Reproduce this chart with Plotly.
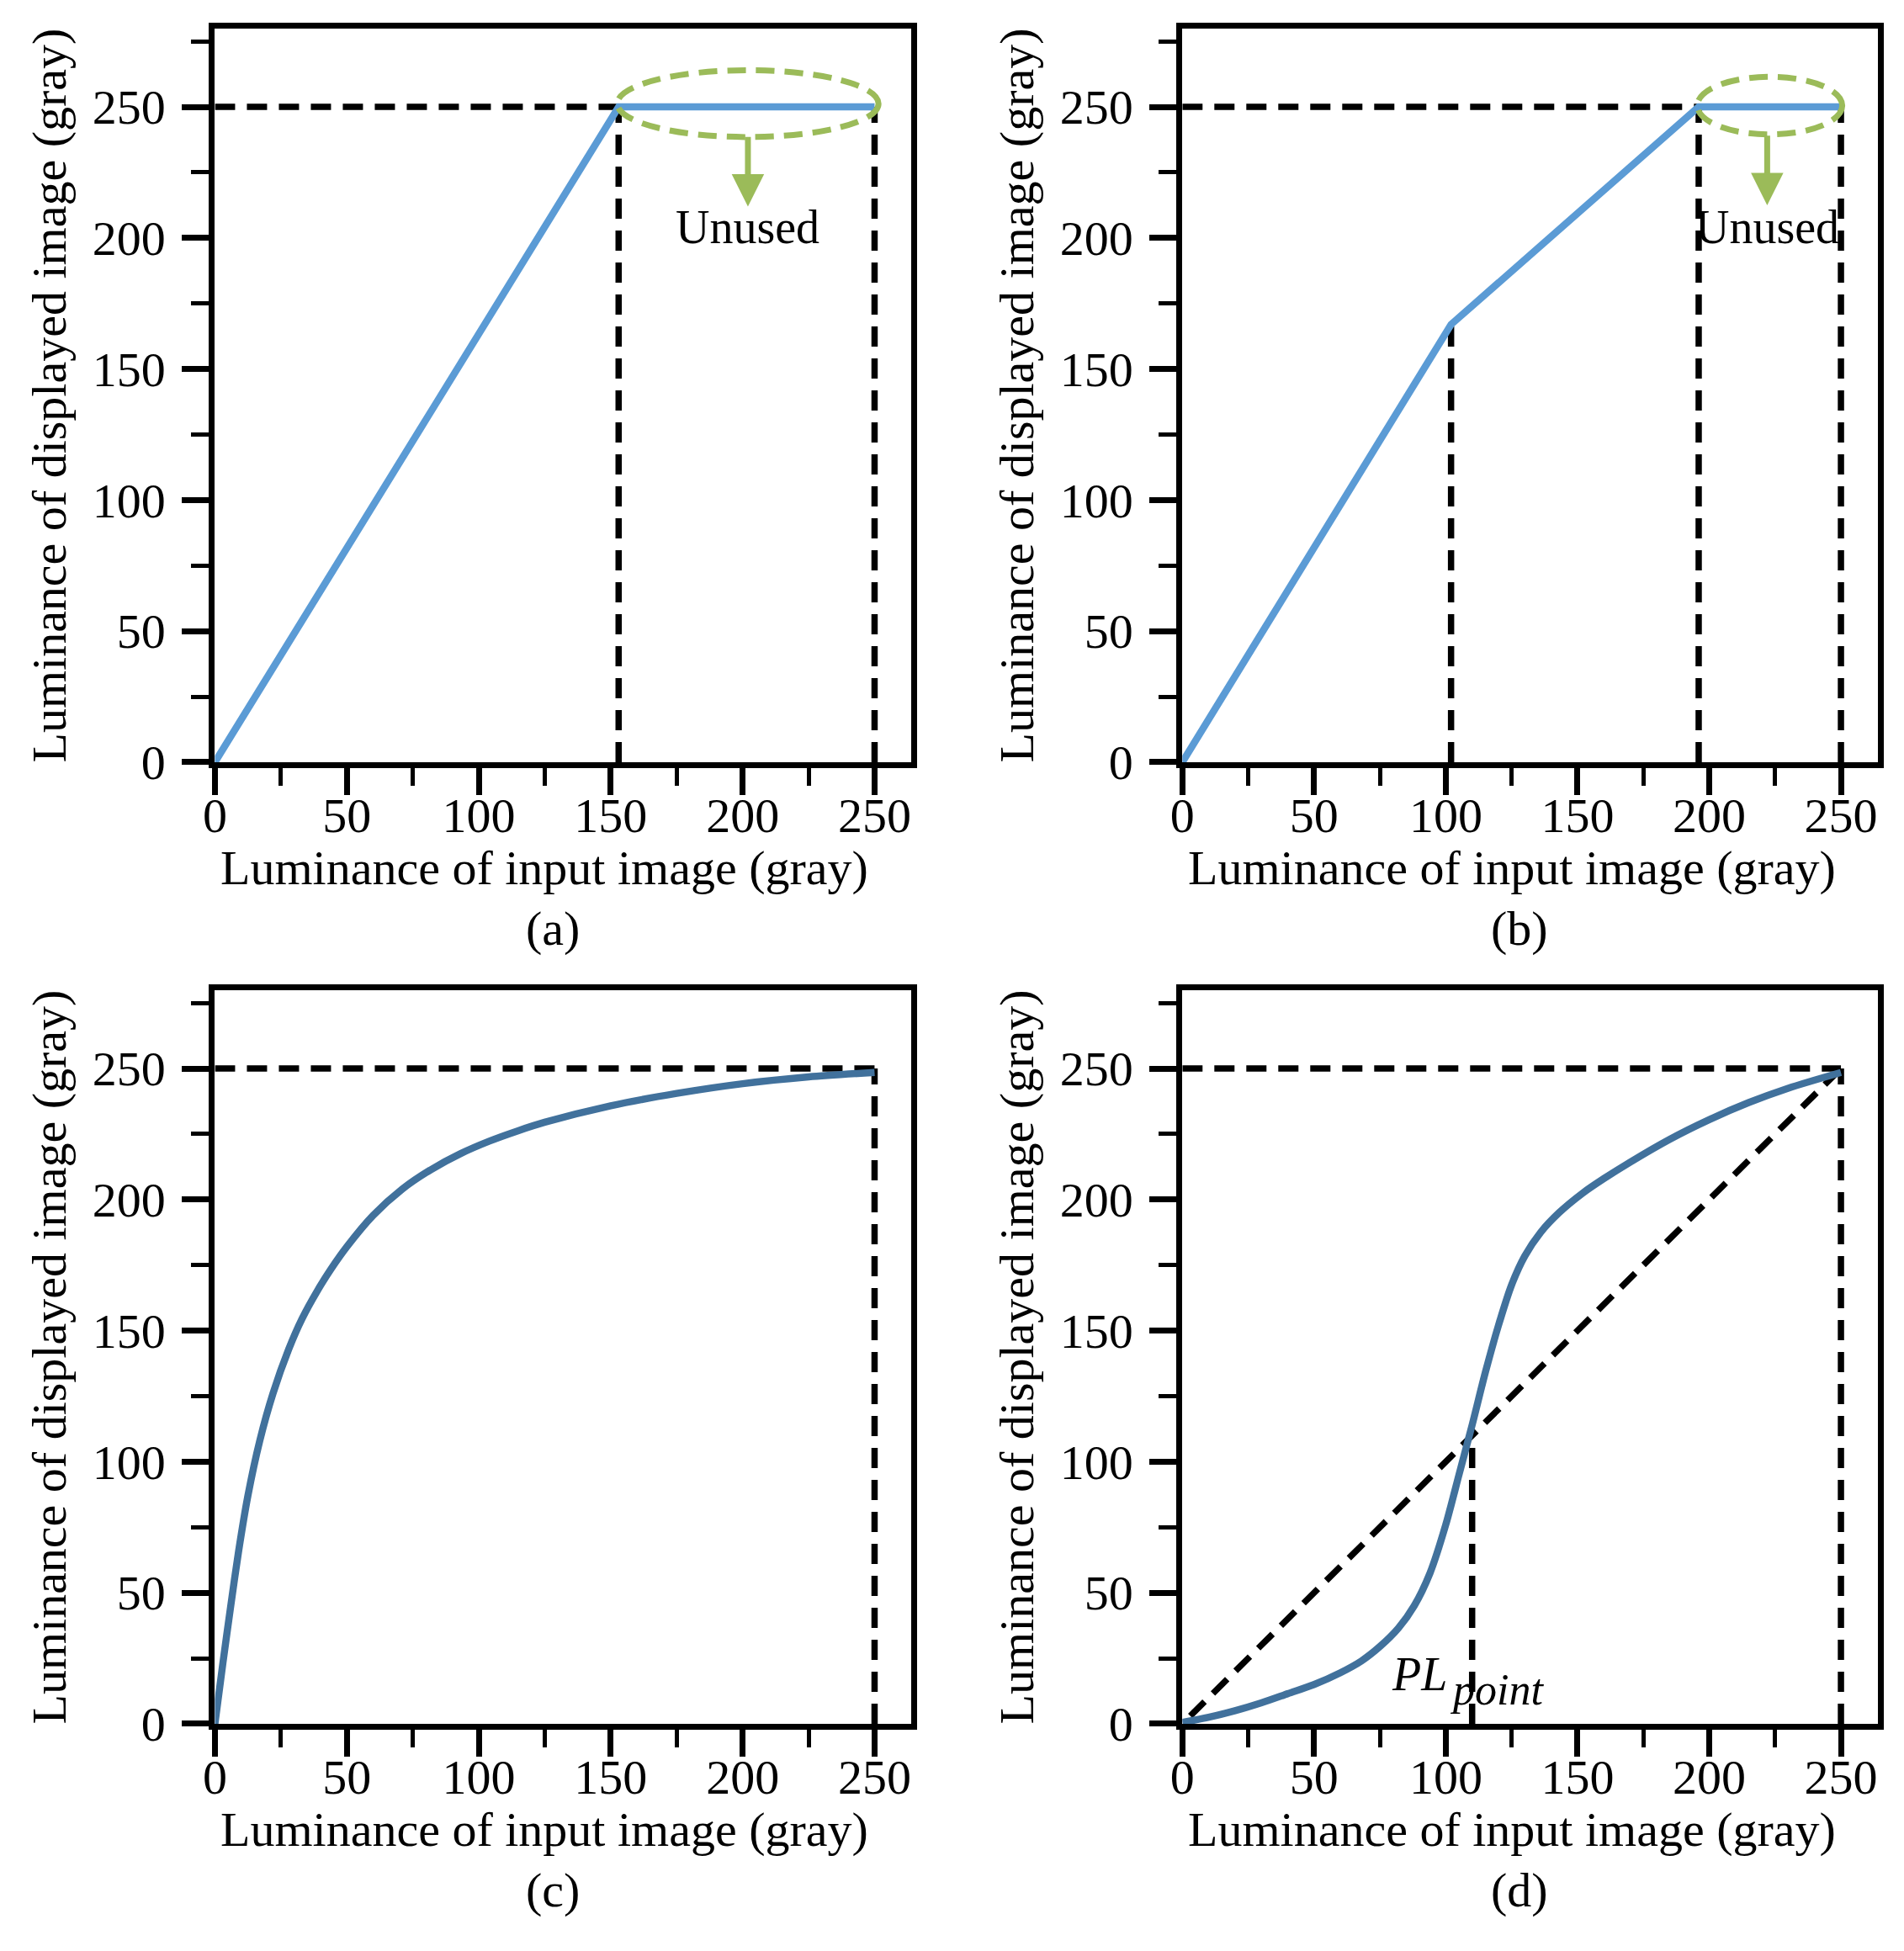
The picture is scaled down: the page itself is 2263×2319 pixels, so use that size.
import plotly.graph_objects as go

# ---- data ----
ticks = [0, 50, 100, 150, 200, 250]
full = 250

# (a) linear mapping clipped at 250
a_x = [0, 153, 250]
a_y = [0, 250, 250]
a_oval = [152.5, 251.5, 238.5, 264]      # x0, x1, y0, y1 of the "unused" ellipse
a_arrow = [202, 239, 212]                 # x, tail y, tip y
a_note = [202, 204]

# (b) two-slope mapping clipped at 250
b_x = [0, 102, 196, 250]
b_y = [0, 167, 250, 250]
b_oval = [195.5, 250.5, 239.5, 261.5]
b_arrow = [222, 239.5, 212.5]
b_note = [222, 204]

# (c) compressive curve
c_x = [0, 3, 6, 9, 12.5, 17, 22, 28, 33, 39, 44, 50, 60, 71, 82, 93, 104,
       115, 125, 150, 175, 200, 225, 250]
c_y = [0, 23, 45, 66, 87, 108, 126, 143, 154.5, 165.5, 173.5, 182, 194, 204,
       211.5, 217.5, 222.3, 226.3, 229.5, 235.8, 240.5, 244.2, 246.8, 248.5]

# (d) S-shaped curve with pivot PL_point
d_x = [0, 10, 20, 30, 40, 50, 60, 68, 75, 82, 88, 94, 100, 105, 110, 115, 120,
       125, 130, 136, 143, 152, 160, 170, 185, 200, 215, 230, 250]
d_y = [0.5, 2.5, 5, 8, 11.5, 15, 19.5, 24, 29.5, 36.5, 45, 57.5, 76, 95, 114,
       134, 152, 167.5, 178.5, 187.5, 195, 202.5, 208, 214.3, 223, 230.5, 237,
       242.5, 248.5]
pl_point = 110

LIGHT = "#5B9BD5"
DARK = "#41719C"
GREEN = "#9BBB59"
FONT = "Liberation Serif"
DASH = "24px,14px"

x_title = "Luminance of input image (gray)"
y_title = "Luminance of displayed image (gray)"

W, H = 2263, 2319
xdom = [[0.1034, 0.4717], [0.6149, 0.9826]]
ydom = [[0.6072, 0.9888], [0.1072, 0.4888]]
panels = [("a", 0, 0), ("b", 1, 0), ("c", 0, 1), ("d", 1, 1)]

fig = go.Figure()


def guide(n, xs, ys):
    fig.add_trace(go.Scatter(x=xs, y=ys, mode="lines", xaxis="x" + n, yaxis="y" + n,
                             line=dict(color="black", width=7.5, dash=DASH),
                             showlegend=False, hoverinfo="skip"))


def curve(n, xs, ys, color, spline=False):
    fig.add_trace(go.Scatter(x=xs, y=ys, mode="lines", xaxis="x" + n, yaxis="y" + n,
                             line=dict(color=color, width=8.5,
                                       shape="spline" if spline else "linear",
                                       smoothing=0.8),
                             showlegend=False, hoverinfo="skip"))


# (a)
guide("1", [0, a_x[1]], [a_y[1], a_y[1]])
guide("1", [a_x[1], a_x[1]], [0, a_y[1]])
guide("1", [a_x[2], a_x[2]], [0, a_y[2]])
curve("1", a_x, a_y, LIGHT)

# (b)
guide("2", [0, b_x[2]], [b_y[2], b_y[2]])
for i in (1, 2, 3):
    guide("2", [b_x[i], b_x[i]], [0, b_y[i]])
curve("2", b_x, b_y, LIGHT)

# (c)
guide("3", [0, full], [full, full])
guide("3", [full, full], [0, full])
curve("3", c_x, c_y, DARK, spline=True)

# (d)
guide("4", [0, full], [full, full])
guide("4", [full, full], [0, full])
guide("4", [3, full], [3, full])
guide("4", [pl_point, pl_point], [0, pl_point])
curve("4", d_x, d_y, DARK, spline=True)

layout = dict(width=W, height=H, margin=dict(l=0, r=0, t=0, b=0),
              paper_bgcolor="white", plot_bgcolor="white", showlegend=False)

for k, (lab, col, row) in enumerate(panels, start=1):
    common = dict(showline=True, linewidth=7, linecolor="black", mirror=True,
                  showgrid=False, zeroline=False, ticks="outside", ticklen=32,
                  tickwidth=7, tickcolor="black", tickvals=ticks,
                  tickfont=dict(family=FONT, size=58, color="black"),
                  minor=dict(dtick=25, tick0=0, ticks="outside", ticklen=21,
                             tickwidth=5, tickcolor="black", showgrid=False))
    layout["xaxis%d" % k] = dict(common, domain=xdom[col], range=[0, 264],
                                 anchor="y%d" % k, ticklabelstandoff=-26)
    layout["yaxis%d" % k] = dict(common, domain=ydom[row], range=[0, 280],
                                 anchor="x%d" % k, ticklabelstandoff=8)

fig.update_layout(**layout)

annos = []
for k, (lab, col, row) in enumerate(panels, start=1):
    bottom = (1 - ydom[row][0]) * H
    annos.append(dict(text=x_title, xref="x%d" % k, x=125, yref="paper",
                      y=1 - (bottom + 127) / H, xanchor="center", yanchor="middle",
                      showarrow=False, font=dict(family=FONT, size=58, color="black")))
    annos.append(dict(text="(%s)" % lab, xref="x%d" % k, x=128, yref="paper",
                      y=1 - (bottom + 200) / H, xanchor="center", yanchor="middle",
                      showarrow=False, font=dict(family=FONT, size=58, color="black")))
    annos.append(dict(text=y_title, xref="paper", x=(xdom[col][0] * W - 198) / W,
                      yref="paper", y=sum(ydom[row]) / 2, textangle=-90,
                      xanchor="center", yanchor="middle",
                      showarrow=False, font=dict(family=FONT, size=58, color="black")))

shapes = []
for n, oval, arrow, note in (("1", a_oval, a_arrow, a_note), ("2", b_oval, b_arrow, b_note)):
    shapes.append(dict(type="circle", xref="x" + n, yref="y" + n,
                       x0=oval[0], x1=oval[1], y0=oval[2], y1=oval[3],
                       line=dict(color=GREEN, width=7, dash="22px,12px")))
    annos.append(dict(text="", xref="x" + n, yref="y" + n, x=arrow[0], y=arrow[2],
                      axref="x" + n, ayref="y" + n, ax=arrow[0], ay=arrow[1],
                      showarrow=True, arrowhead=2, arrowsize=1.1, arrowwidth=7,
                      arrowcolor=GREEN, standoff=0))
    annos.append(dict(text="Unused", xref="x" + n, yref="y" + n, x=note[0], y=note[1],
                      xanchor="center", yanchor="middle", showarrow=False,
                      font=dict(family=FONT, size=56, color="black")))

annos.append(dict(text="<i>PL</i>", xref="x4", yref="y4", x=90, y=19,
                  showarrow=False, font=dict(family=FONT, size=56, color="black")))
annos.append(dict(text="<i>point</i>", xref="x4", yref="y4", x=119.5, y=13,
                  showarrow=False, font=dict(family=FONT, size=52, color="black")))

fig.update_layout(annotations=annos, shapes=shapes)
fig.write_html("out.html")
